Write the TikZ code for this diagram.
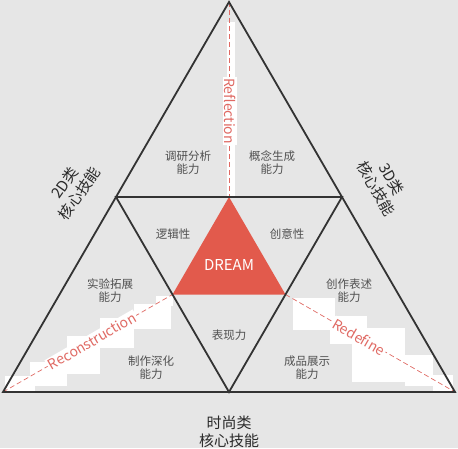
\documentclass[tikz,border=0pt]{standalone}
\usepackage{fontspec}
\setmainfont{Noto Sans CJK SC}
\usetikzlibrary{calc}

\definecolor{bggray}{HTML}{E6E6E6}
\definecolor{edgegray}{HTML}{333333}
\definecolor{dreamred}{HTML}{E25A4C}
\definecolor{dashred}{HTML}{E06A64}
\definecolor{txtgray}{HTML}{505050}

\begin{document}
\begin{tikzpicture}[x=1pt, y=-1pt,
  edge/.style = {draw=edgegray, line width=1.8pt},
  guide/.style = {draw=dashred, line width=0.7pt, dash pattern=on 5pt off 3pt},
  stair/.style = {fill=white},
  skill/.style = {text=txtgray, align=center, font=\fontsize{11.5}{13}\selectfont},
  core/.style = {text=edgegray!80!black, align=center, font=\fontsize{15}{18}\selectfont},
  way/.style = {text=dashred, fill=white, inner sep=1.5pt, font=\fontsize{14}{16}\selectfont}]
        \fill[bggray] (0,0) rectangle (458,448);
        \useasboundingbox (0,0) rectangle (458,448);

        \coordinate (top) at (229,2);
        \coordinate (bl)  at (3,392);
        \coordinate (br)  at (455,392);
        \coordinate (ml)  at ($(top)!0.5!(bl)$);
        \coordinate (mr)  at ($(top)!0.5!(br)$);
        \coordinate (mb)  at ($(bl)!0.5!(br)$);
        \coordinate (rt)  at ($(ml)!0.5!(mr)$);
        \coordinate (rl)  at ($(ml)!0.5!(mb)$);
        \coordinate (rr)  at ($(mr)!0.5!(mb)$);

        \fill[stair] (5,376) rectangle (35,392);
        \fill[stair] (30,362) rectangle (67,386);
        \fill[stair] (67,336) rectangle (100,374);
        \fill[stair] (100,318) rectangle (134,348);
        \fill[stair] (134,304) rectangle (171,329);
        \fill[stair] (156,296) rectangle (173,306);

        \fill[stair] (293,298) rectangle (335,330);
        \fill[stair] (330,316) rectangle (367,344);
        \fill[stair] (352,328) rectangle (405,382);
        \fill[stair] (405,355) rectangle (433,386);
        \fill[stair] (433,375) rectangle (453,392);

        \fill[stair] (227,22) rectangle (235,196);

        \fill[dreamred] (rt) -- (rl) -- (rr) -- cycle;

        \draw[guide] (top) -- (rt);
        \draw[guide] (bl) -- (rl);
        \draw[guide] (rr) -- (br);

        \draw[edge] (top) -- (bl) -- (br) -- cycle;
        \draw[edge] (ml) -- (mr) -- (mb) -- cycle;

        \node[way, rotate=-90] (reflection) at (230,111) {Reflection};
        \node[way, rotate=30] (reconstruction) at (92,341) {Reconstruction};
        \node[way, rotate=-30] (redefine) at (359,337) {Redefine};

        \node[text=white, font=\fontsize{15}{17}\selectfont] (dream) at (229,265) {DREAM};

        \node[skill] (research) at (188,163) {调研分析\\能力};
        \node[skill] (concept)  at (272,163) {概念生成\\能力};
        \node[skill] (logic)    at (173,234) {逻辑性};
        \node[skill] (idea)     at (287,234) {创意性};
        \node[skill] (explore)  at (110,291) {实验拓展\\能力};
        \node[skill] (express)  at (349,291) {创作表述\\能力};
        \node[skill] (perform)  at (229,335) {表现力};
        \node[skill] (deepen)   at (151,368) {制作深化\\能力};
        \node[skill] (show)     at (307,368) {成品展示\\能力};

        \node[core, rotate=55]  (twod)    at (72,188)  {2D类\\核心技能};
        \node[core, rotate=-60] (threed)  at (384,184) {3D类\\核心技能};
        \node[core]             (fashion) at (229,432) {时尚类\\核心技能};
\end{tikzpicture}
\end{document}
